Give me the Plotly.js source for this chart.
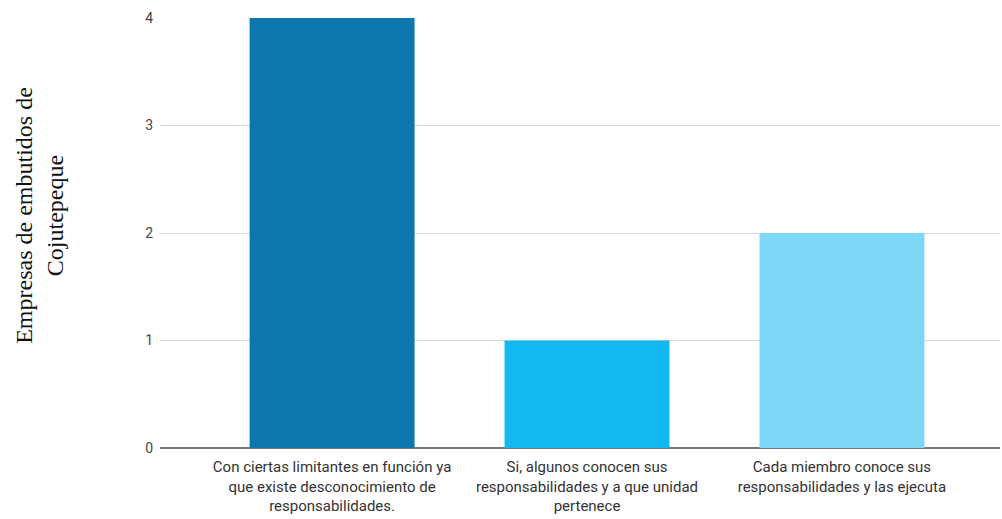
<!DOCTYPE html>
<html>
<head>
<meta charset="utf-8">
<script src="https://cdn.plot.ly/plotly-3.0.1.min.js"></script>
<style>
  html, body { margin: 0; padding: 0; background: #ffffff; }
  #chart { width: 1002px; height: 519px; }
</style>
</head>
<body>
<div id="chart"></div>
<script>
// Category labels (multi-line) and company counts
const categories = [
  "Con ciertas limitantes en función ya<br>que existe desconocimiento de<br>responsabilidades.",
  "Si, algunos conocen sus<br>responsabilidades y a que unidad<br>pertenece",
  "Cada miembro conoce sus<br>responsabilidades y las ejecuta"
];
const counts = [4, 1, 2];
const barColors = ["#0b77ae", "#12b8f1", "#7dd8f8"];
const yTicks = [0, 1, 2, 3, 4];
const yTitle = "Empresas de embutidos de<br>Cojutepeque";

const trace = {
  type: "bar",
  x: categories,
  y: counts,
  marker: { color: barColors, line: { width: 0 } },
  hoverinfo: "x+y"
};

const layout = {
  width: 1002,
  height: 519,
  margin: { l: 160, r: 2, t: 18, b: 71, pad: 0 },
  paper_bgcolor: "#ffffff",
  plot_bgcolor: "#ffffff",
  bargap: 0.353,
  showlegend: false,
  font: { family: "Roboto, Arial, sans-serif", color: "#333333" },
  xaxis: {
    type: "category",
    range: [-0.675, 2.62],
    showgrid: false,
    showline: false,
    ticks: "",
    ticklabelstandoff: 8,
    tickfont: { family: "Roboto, Arial, sans-serif", size: 15, color: "#333333" },
    automargin: false,
    fixedrange: true
  },
  yaxis: {
    range: [0, 4],
    tickvals: yTicks,
    ticktext: yTicks.map(String),
    showgrid: true,
    gridcolor: "#d9d9d9",
    gridwidth: 1,
    zeroline: true,
    zerolinecolor: "#777777",
    zerolinewidth: 2,
    showline: false,
    ticks: "",
    ticklabelstandoff: 6,
    tickfont: { family: "Roboto, Arial, sans-serif", size: 14, color: "#444444" },
    automargin: false,
    fixedrange: true
  },
  // Vertical axis caption, set a little above the plot's middle
  annotations: [{
    text: yTitle,
    xref: "paper", yref: "paper",
    x: -0.143, y: 0.542,
    xanchor: "center", yanchor: "middle",
    textangle: -90,
    showarrow: false,
    align: "center",
    font: { family: "Liberation Serif, Times New Roman, serif", size: 24, color: "#111111" }
  }]
};

Plotly.newPlot("chart", [trace], layout, { displayModeBar: false, staticPlot: true });
</script>
</body>
</html>
